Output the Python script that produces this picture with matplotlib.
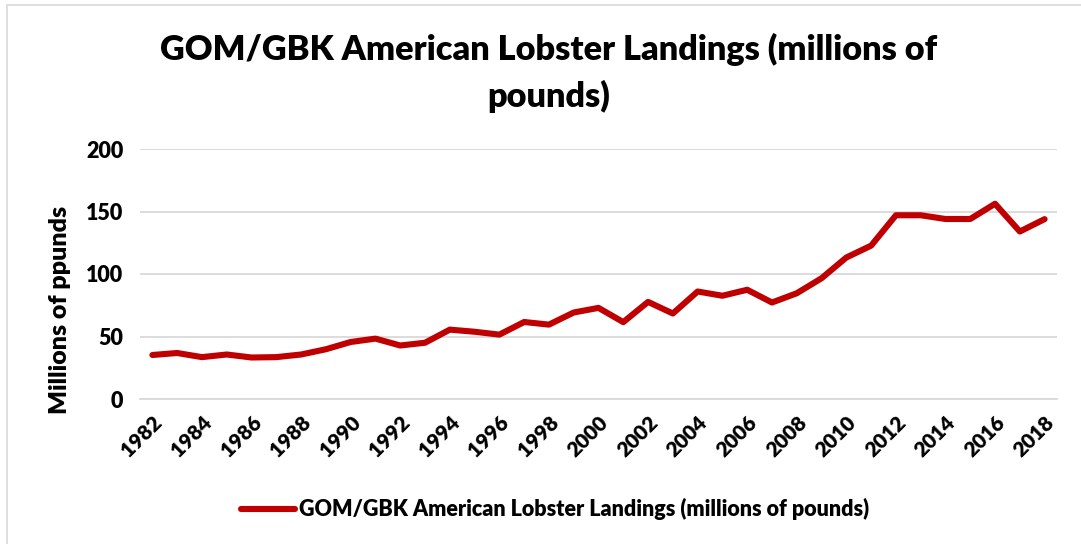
import matplotlib.pyplot as plt
import numpy as np
from matplotlib.patches import Rectangle

plt.rcParams['font.family'] = ['Lato', 'DejaVu Sans']

# landings, millions of pounds
years = list(range(1982, 2019))
landings = [35.2, 36.8, 33.5, 35.6, 33.2, 33.5, 35.6, 39.8, 45.6, 48.3,
            42.8, 45.0, 55.5, 53.8, 51.5, 61.6, 59.5, 69.2, 72.9, 61.5,
            77.7, 68.4, 86.0, 82.6, 87.4, 77.2, 84.6, 96.6, 113.2, 122.7,
            147.0, 147.0, 144.0, 144.0, 156.2, 134.0, 143.9]
yticks = [0, 50, 100, 150, 200]
series_name = 'GOM/GBK American Lobster Landings (millions of pounds)'
title = 'GOM/GBK American Lobster Landings (millions of\npounds)'

line_color = '#C00000'
grid_color = '#D9D9D9'
weight = 'heavy'

fig = plt.figure(figsize=(10.81, 5.44), dpi=100)
ax = fig.add_axes([140 / 1081., 145 / 544., 917 / 1081., 250 / 544.])

# chart frame
fig.patches.append(Rectangle((7 / 1081., -0.1), 1.2, (544 - 5) / 544. + 0.1,
                             transform=fig.transFigure, fill=False,
                             edgecolor=grid_color, linewidth=1.2))

ax.plot(years, landings, color=line_color, linewidth=4.4,
        solid_capstyle='round', solid_joinstyle='round', zorder=3)

ax.set_xlim(years[0] - 0.5, years[-1] + 0.5)
ax.set_ylim(0, 200)
ax.set_yticks(yticks)
ax.set_xticks(years[::2])
ax.set_xticklabels([str(y) for y in years[::2]], rotation=45, ha='right',
                   va='top', rotation_mode='anchor')
ax.tick_params(axis='x', length=0, pad=10, labelsize=15)
ax.tick_params(axis='y', length=0, pad=12, labelsize=15.5)
for lab in ax.get_xticklabels() + ax.get_yticklabels():
    lab.set_fontweight(weight)
    lab.set_color('black')

ax.grid(axis='y', color=grid_color, linewidth=1.3)
ax.set_axisbelow(True)
for s in ['top', 'right', 'left']:
    ax.spines[s].set_visible(False)
ax.spines['bottom'].set_color(grid_color)
ax.spines['bottom'].set_linewidth(1.3)

ax.set_ylabel('Millions of ppunds', fontsize=18, fontweight=weight)
ax.yaxis.set_label_coords(-0.075, 0.356)

fig.text(549 / 1081., 1 - 73 / 544., title, ha='center', va='center',
         fontsize=24.7, fontweight=weight, linespacing=1.5)

leg = fig.legend([ax.lines[0]], [series_name], loc='center',
                 bbox_to_anchor=(555 / 1081., 1 - 509 / 544.), frameon=False,
                 prop={'weight': weight, 'size': 15.5}, handlelength=2.5,
                 handletextpad=0.2)

fig.savefig('out.png', dpi=100, facecolor='white')
